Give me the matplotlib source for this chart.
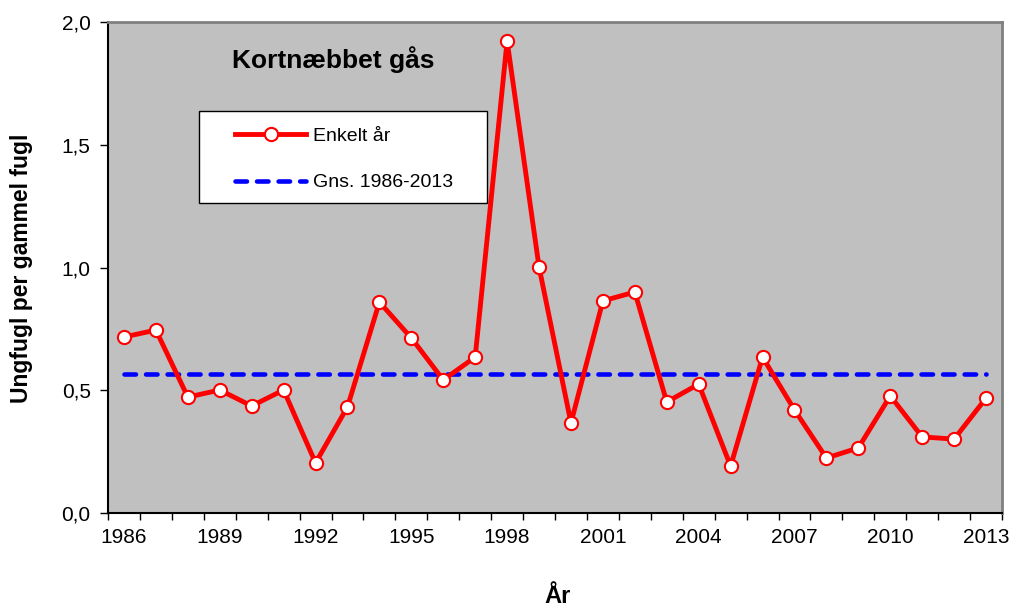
import matplotlib
matplotlib.use("Agg")
import matplotlib.pyplot as plt
from matplotlib.ticker import FuncFormatter
from matplotlib.patches import Rectangle
import numpy as np

years = list(range(1986, 2014))
values = [0.717, 0.745, 0.472, 0.501, 0.436, 0.501, 0.204, 0.432, 0.859, 0.713,
          0.542, 0.635, 1.923, 1.002, 0.367, 0.864, 0.900, 0.452, 0.525, 0.191,
          0.635, 0.420, 0.224, 0.265, 0.477, 0.310, 0.301, 0.468]
mean_value = 0.566
tick_years = years[::3]

plt.rcParams['font.family'] = ['Liberation Sans', 'DejaVu Sans']

W, H = 1012, 606
fig = plt.figure(figsize=(W/100, H/100), dpi=100)
ax = fig.add_axes([108/W, 1-513/H, (1002-108)/W, (513-22)/H])
ax.set_facecolor('#C0C0C0')

ax.plot(years, values, color='#FF0000', lw=3.5, marker='o', ms=9.5,
        markerfacecolor='white', markeredgecolor='#FF0000', markeredgewidth=1.5,
        label='Enkelt år', zorder=4)
ax.plot([years[0], years[-1]], [mean_value, mean_value], color='#0000FF', lw=3.3,
        linestyle=(0, (2.5, 2.2)), dash_capstyle='round', label='Gns. 1986-2013', zorder=3)

ax.set_xlim(1985.5, 2013.5)
ax.set_ylim(0, 2.0)
ax.set_xticks(tick_years)
ax.set_xticks(np.arange(1985.5, 2014, 1), minor=True)
ax.tick_params(axis='x', which='major', length=0, pad=11, labelsize=15)
ax.tick_params(axis='x', which='minor', length=5, width=1, direction='out', color='black')
ax.set_yticks(np.arange(0, 2.01, 0.5))
ax.yaxis.set_major_formatter(FuncFormatter(lambda v, p: f"{v:.1f}".replace('.', ',')))
ax.tick_params(axis='y', length=5.5, width=1, direction='out', labelsize=15, pad=7)

for s in ['left', 'bottom']:
    ax.spines[s].set_color('black')
    ax.spines[s].set_linewidth(1.5)
for s in ['top', 'right']:
    ax.spines[s].set_color('#808080')
    ax.spines[s].set_linewidth(2)

fig.text(22/W, 1-268/H, 'Ungfugl per gammel fugl', fontsize=16.5, fontweight='bold',
         rotation=90, ha='center', va='center')
fig.text(558/W, 1-603/H, 'År', fontsize=17, fontweight='bold',
         ha='center', va='baseline')

fig.text(333/W, 1-60/H, 'Kortnæbbet gås', fontsize=19, fontweight='bold',
         ha='center', va='center')

box = Rectangle((199/W, 1-203/H), 288/W, 92/H, transform=fig.transFigure,
                facecolor='white', edgecolor='black', lw=1.0, zorder=10)
ax.add_patch(box)
box.set_clip_on(False)

leg = ax.legend(loc='upper left', bbox_to_anchor=(235/W, 1-127/H),
                bbox_transform=fig.transFigure, frameon=False,
                fontsize=14, handlelength=3.66, labelspacing=1.5,
                borderpad=0, handletextpad=0.36, borderaxespad=0)
leg.set_zorder(11)

fig.savefig('out.png', dpi=100)
